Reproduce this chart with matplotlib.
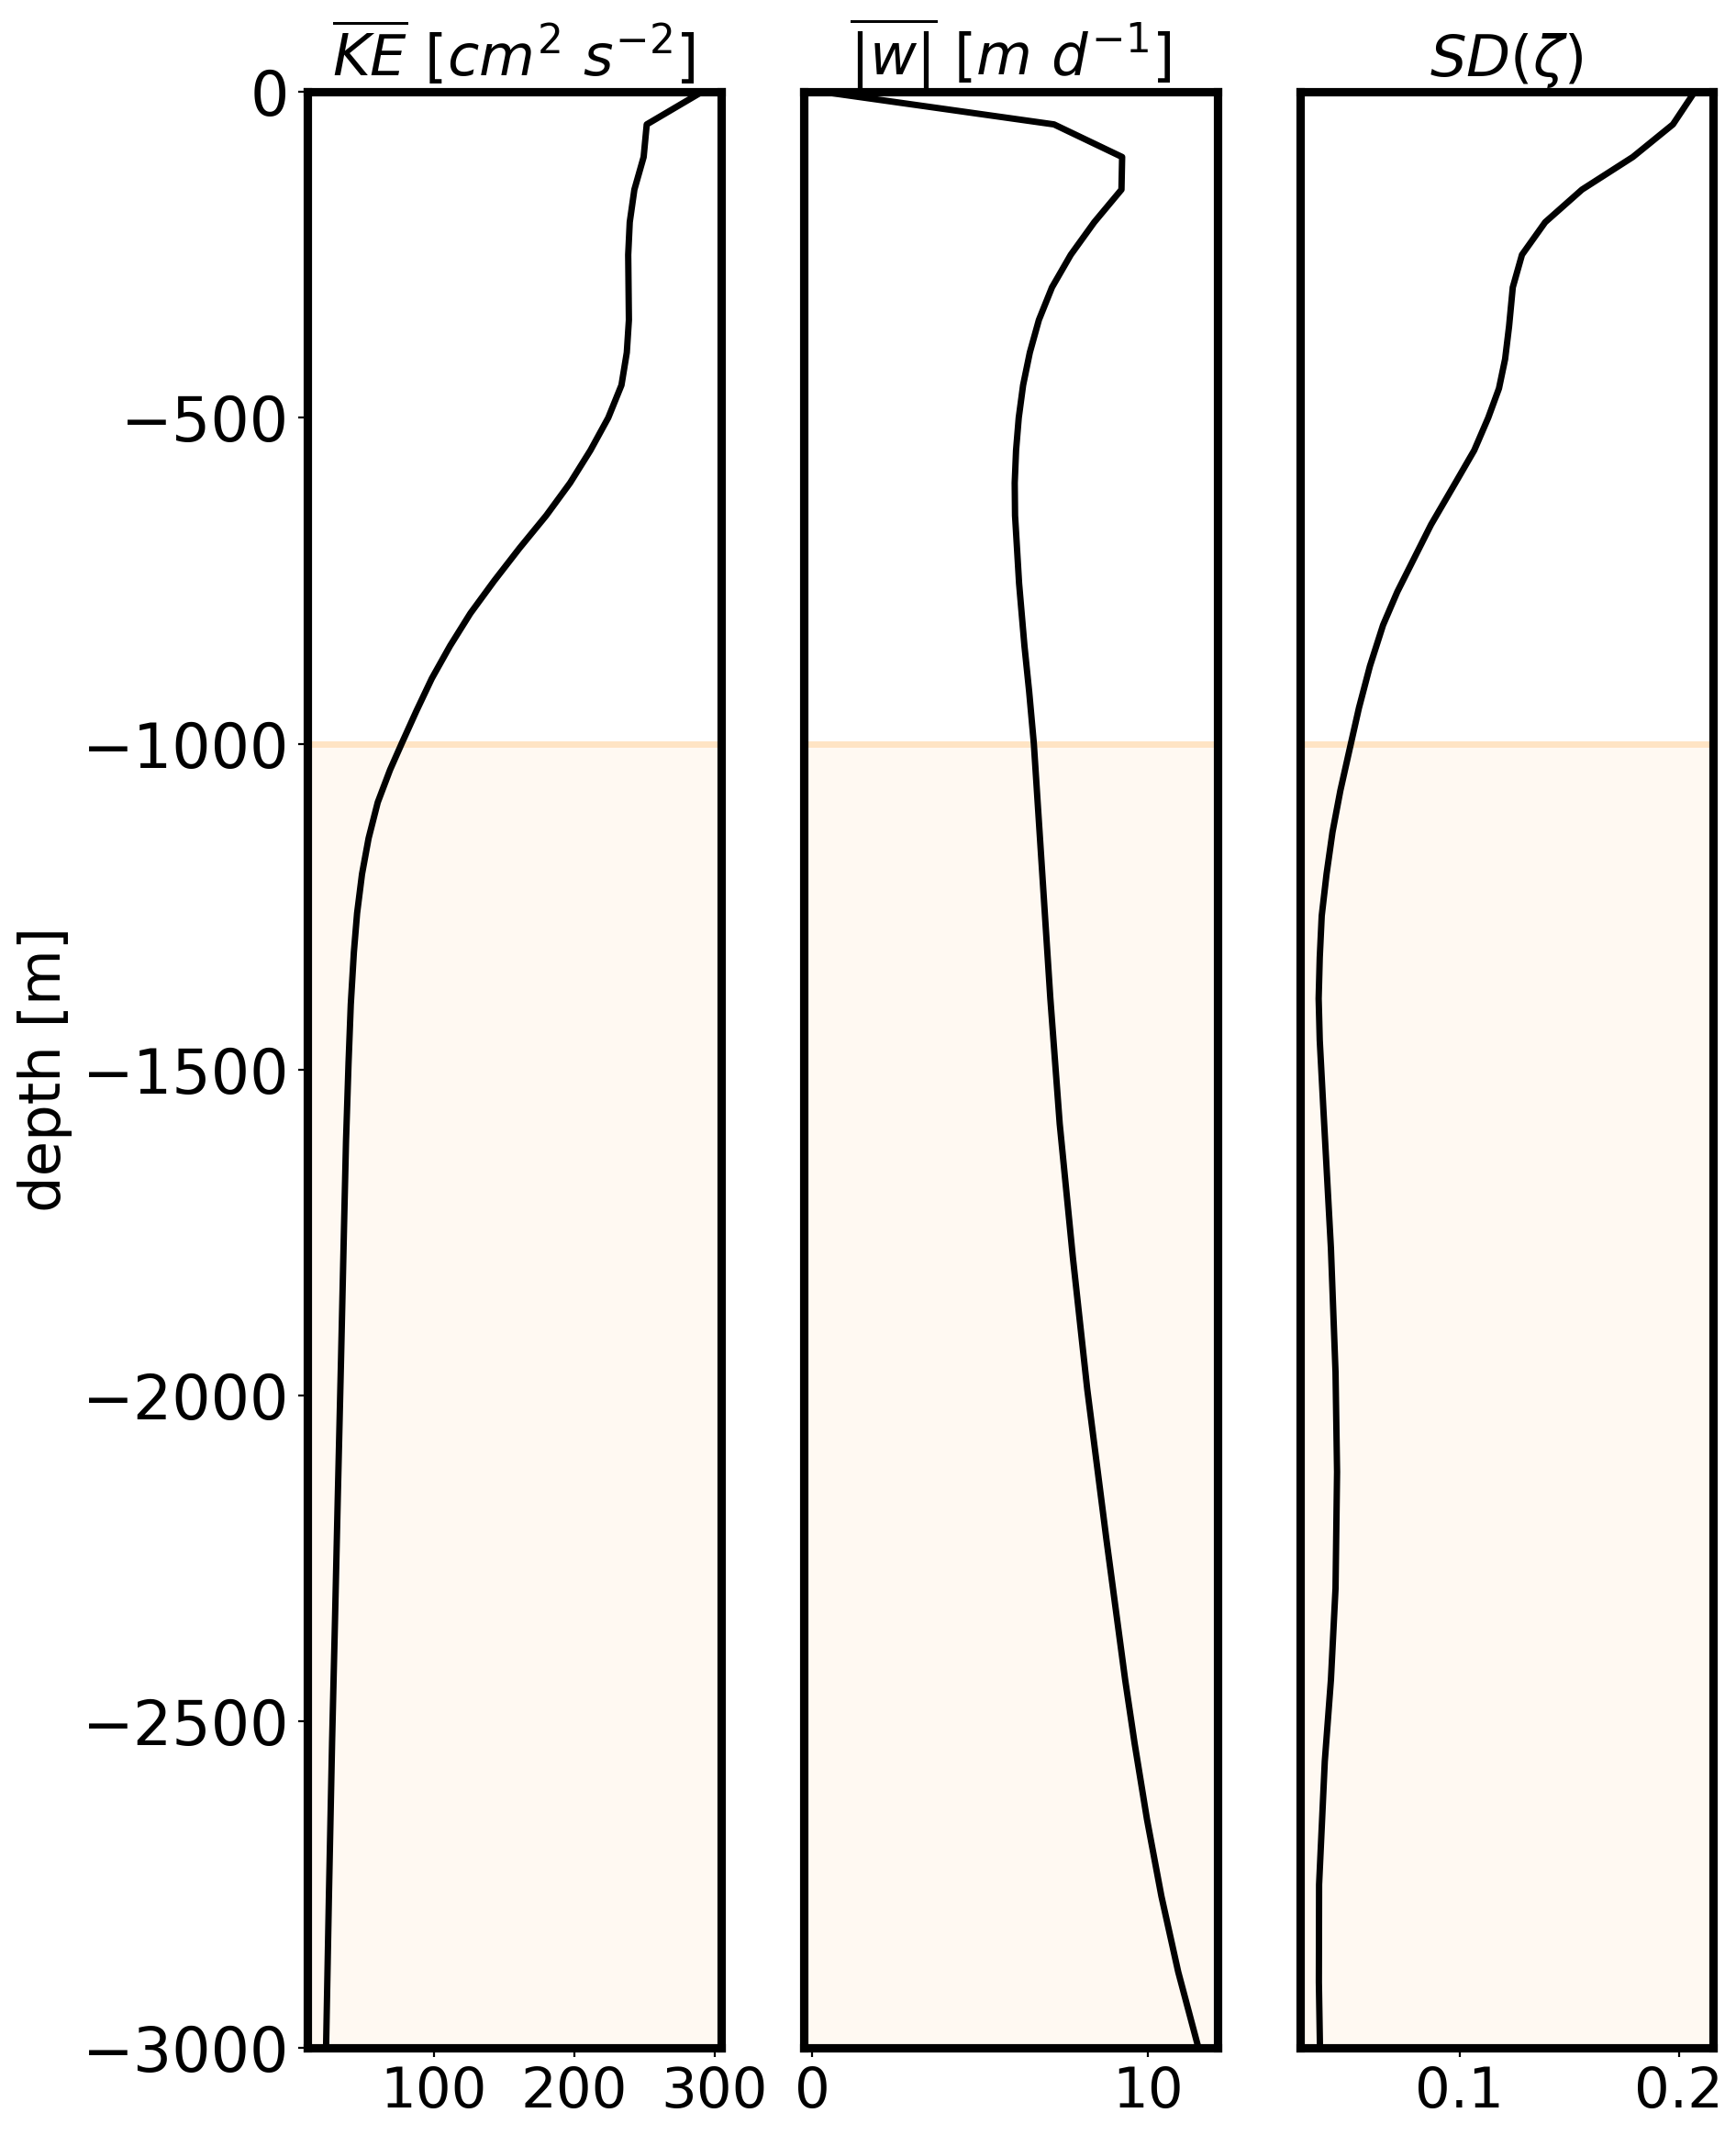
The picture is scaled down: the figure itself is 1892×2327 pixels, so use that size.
import matplotlib
matplotlib.use("Agg")
import matplotlib.pyplot as plt

# Profiles (depth in m, negative downward)
z_ke = [0, -50, -100, -150, -200, -250, -350, -400, -450, -500, -550, -600, -650,
        -700, -750, -800, -850, -900, -950, -1000, -1040, -1090, -1145, -1200,
        -1260, -1320, -1400, -1490, -1610, -1740, -1950, -2160, -2350, -2530,
        -2760, -3000]
ke = [291, 251.6, 249.4, 242.8, 239.5, 238.4, 238.9, 237.4, 233.6, 224.2, 211.5,
      197, 180, 161, 143, 126, 111.5, 98.5, 87.5, 77, 68.8, 60, 53.5, 48.8,
      45.3, 43.0, 40.8, 39.2, 37.4, 36.0, 33.8, 31.5, 29.5, 27.5, 25.3, 23.2]

z_w = [0, -50, -100, -150, -200, -250, -300, -350, -400, -450, -500, -550, -600,
       -650, -754, -850, -920, -1000, -1175, -1390, -1583, -1787, -1990, -2220,
       -2436, -2533, -2650, -2768, -2884, -3000]
w = [0.3, 7.2, 9.23, 9.21, 8.4, 7.7, 7.14, 6.75, 6.48, 6.28, 6.15, 6.07, 6.03,
     6.04, 6.16, 6.32, 6.46, 6.6, 6.82, 7.09, 7.37, 7.76, 8.19, 8.76,
     9.32, 9.60, 9.97, 10.40, 10.90, 11.5]

z_sd = [0, -50, -100, -150, -200, -250, -300, -360, -410, -455, -500, -550, -600,
        -664, -767, -818, -881, -945, -1000, -1072, -1136, -1200, -1264, -1328,
        -1391, -1455, -1557, -1774, -1964, -2117, -2296, -2436, -2561, -2750,
        -2900, -3000]
sd = [0.2072, 0.1973, 0.179, 0.1558, 0.139, 0.1284, 0.1242, 0.1225, 0.1207, 0.1179,
      0.113, 0.1066, 0.098, 0.0869, 0.0715, 0.0650, 0.0590, 0.0540, 0.0503, 0.0455,
      0.0419, 0.0392, 0.037, 0.0361, 0.0356, 0.0361, 0.0377, 0.0412, 0.0433,
      0.044, 0.0433, 0.0412, 0.0384, 0.0358, 0.0357, 0.0362]

titles = [r'$\overline{KE}\ [cm^2\ s^{-2}]$', r'$\overline{|w|}\ [m\ d^{-1}]$', r'$SD(\zeta)$']
xticks = [[100, 200, 300], [0, 10], [0.1, 0.2]]
xticklabels = [["100", "200", "300"], ["0", "10"], ["0.1", "0.2"]]
split_depth = -1000

plt.rcParams["font.size"] = 22

fig, axes = plt.subplots(1, 3, sharey=True, figsize=(9.46, 11.635), dpi=200)
fig.subplots_adjust(left=0.177, right=0.987, bottom=0.041, top=0.957, wspace=0.2)

profiles = [(ke, z_ke), (w, z_w), (sd, z_sd)]
for i, ax in enumerate(axes):
    x, z = profiles[i]
    ax.axhspan(-3000, split_depth, color="bisque", alpha=0.22, lw=0, zorder=0)
    ax.axhline(split_depth, color="bisque", lw=2.5, zorder=1)
    ax.plot(x, z, color="k", lw=2.5, zorder=3)
    ax.set_title(titles[i], fontsize=22.5)
    ax.set_xticks(xticks[i])
    ax.set_xticklabels(xticklabels[i])
    ax.tick_params(axis="x", labelsize=22)
    for sp in ax.spines.values():
        sp.set_linewidth(3.3)
        sp.set_zorder(4)
    if i > 0:
        ax.tick_params(left=False, labelleft=False)

axes[0].set_ylim(-3000, 0)
axes[0].set_yticks([0, -500, -1000, -1500, -2000, -2500, -3000])
axes[0].tick_params(axis="y", labelsize=24)
axes[0].set_ylabel("depth [m]", fontsize=22.5)

fig.savefig("out.png", dpi=200)
